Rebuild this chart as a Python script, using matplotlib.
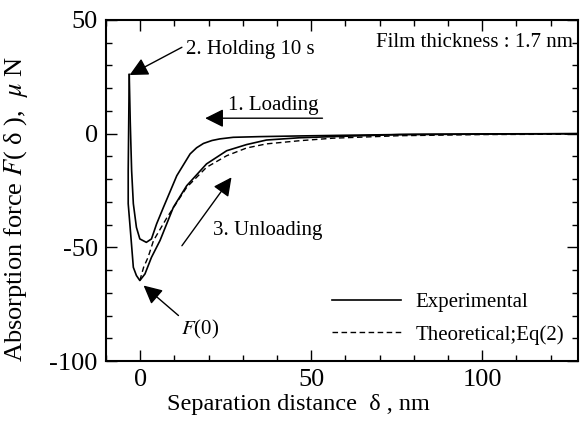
import matplotlib
matplotlib.use('Agg')
from matplotlib import pyplot as plt
from matplotlib.lines import Line2D
from matplotlib.ticker import MultipleLocator

plt.rcParams['font.family'] = ['Liberation Serif', 'DejaVu Serif']
plt.rcParams['mathtext.fontset'] = 'stix'
plt.rcParams['axes.unicode_minus'] = False

# experimental, loading (right to left, up the wall)
load_x = [128, 100, 80, 60, 46.6, 35, 27.2, 23.3, 21, 18.5, 16.5, 14.6, 10.7, 6.8, 4.8, 3.3, 1.8, -0.1, -1.1, -2.0, -2.5, -2.9, -3.2]
load_y = [0, -0.1, -0.3, -0.7, -1.0, -1.3, -1.6, -2.3, -3.0, -4.3, -6.2, -8.9, -18.5, -32.4, -39.7, -46.3, -47.8, -46.3, -41.2, -30.8, -16.3, 5, 26]
# experimental, unloading (from the hold point outwards)
unload_x = [-3.2, -3.5, -3.5, -2.7, -2.0, -1.1, -0.1, 1.4, 3.3, 5.8, 9.7, 13.6, 19.4, 25.3, 31.1, 36.9, 46.6, 56.3, 75.8, 100, 128]
unload_y = [26, -16.3, -30.8, -45.6, -58.8, -62.4, -64.6, -61.7, -54.4, -47, -32.4, -22.9, -13.3, -7.5, -4.8, -2.8, -1.8, -1.3, -0.4, -0.2, 0]
# theoretical, Eq(2)
theo_x = [-0.1, 1, 2.3, 3.9, 7.8, 13.6, 19.4, 25.3, 31.1, 36.9, 46.6, 56.3, 75.8, 100, 128]
theo_y = [-64.6, -58.8, -54.4, -47, -37, -23.6, -14.8, -9.7, -6.3, -4.5, -3.1, -2.0, -0.9, -0.4, -0.2]

fig = plt.figure(figsize=(5.81, 4.21), dpi=100)
ax = fig.add_axes([0.1824, 0.1425, 0.8124, 0.81])

ax.plot(load_x, load_y, color='k', lw=1.2)
ax.plot(unload_x, unload_y, color='k', lw=1.2)
ax.plot(theo_x, theo_y, color='k', lw=1.0, ls=(0, (4, 2.5)))

ax.set_xlim(-10, 128)
ax.set_ylim(-100, 50)
ax.xaxis.set_major_locator(MultipleLocator(50))
ax.xaxis.set_minor_locator(MultipleLocator(10))
ax.yaxis.set_major_locator(MultipleLocator(50))
ax.yaxis.set_minor_locator(MultipleLocator(10))
ax.tick_params(which='both', direction='in', top=True, right=True, width=1)
ax.tick_params(which='major', length=8, labelsize=19, pad=6)
ax.tick_params(which='minor', length=4)
for s in ax.spines.values():
    s.set_linewidth(1.5)

ax.set_xlabel('Separation distance  δ , nm', fontsize=17.5)
ax.xaxis.set_label_coords(0.407, -0.097)
ax.set_ylabel('Absorption force $F$( δ ),  $\\mu$ N', fontsize=19)
ax.yaxis.set_label_coords(-0.161, 0.446)

arrow = dict(arrowstyle='-|>', color='k', lw=1, mutation_scale=28, shrinkA=0, shrinkB=0)
ax.annotate('', xy=(-3.1, 25.8), xytext=(12.2, 38), arrowprops=arrow)
ax.text(13.5, 37.0, '2. Holding 10 s', fontsize=15, va='center', ha='left')
ax.annotate('', xy=(19, 6.8), xytext=(53.3, 6.8), arrowprops=arrow)
ax.text(39, 12.6, '1. Loading', fontsize=15, va='center', ha='center')
ax.annotate('', xy=(26.7, -19.2), xytext=(12.2, -49.3), arrowprops=arrow)
ax.text(37.3, -42.6, '3. Unloading', fontsize=15, va='center', ha='center')
ax.annotate('', xy=(1, -66.8), xytext=(11.2, -80), arrowprops=arrow)
ax.text(17.5, -86.0, '$F$(0)', fontsize=15, va='center', ha='center')
ax.text(126.5, 40, 'Film thickness : 1.7 nm', fontsize=15, va='center', ha='right')

handles = [Line2D([], [], color='k', lw=1.2),
           Line2D([], [], color='k', lw=1.0, ls=(0, (4, 2.5)))]
ax.legend(handles, ['Experimental', 'Theoretical;Eq(2)'], loc='upper left',
          bbox_to_anchor=(0.479, 0.200), frameon=False, fontsize=15,
          handlelength=3.3, handletextpad=0.7, labelspacing=0.6,
          borderpad=0, borderaxespad=0)

fig.savefig('out.png', dpi=100)
